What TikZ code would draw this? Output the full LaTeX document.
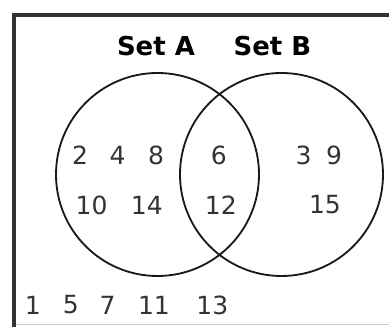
\documentclass[tikz,border=0pt]{standalone}
\usepackage{fontspec}
\setmainfont{DejaVu Sans}

\tikzset{
  num/.style={text=black!80, inner sep=0pt, font=\fontsize{17.8}{20}\selectfont},
  setlabel/.style={inner sep=0pt, font=\fontsize{18.5}{21}\selectfont\bfseries},
  setcircle/.style={line width=1.3pt, black!90}
}

\begin{document}
\begin{tikzpicture}
  \useasboundingbox (0,0) rectangle (9.725,8.175);

  % 1. 枠 (全体集合)
  \draw[black!20, line width=0.4pt] (0.35,0.07) -- (9.725,0.07);
  \draw[black!80, line width=2.2pt] (0.35,0) -- (0.35,7.8) -- (9.725,7.8);

  % 2. 円 A, B
  \coordinate (A) at (3.9375,3.8125);
  \coordinate (B) at (7.0375,3.8125);
  \draw[setcircle] (A) circle (2.5375);
  \draw[setcircle] (B) circle (2.5375);

  % 3. 集合の名前
  \node[setlabel] (setA) at (3.9,7.025) {Set A};
  \node[setlabel] (setB) at (6.81,7.025) {Set B};

  % 4. A のみ
  \node[num] (n2)  at (2.0,4.29)  {2};
  \node[num] (n4)  at (2.94,4.29) {4};
  \node[num] (n8)  at (3.9,4.29)  {8};
  \node[num] (n10) at (2.29,3.05) {10};
  \node[num] (n14) at (3.67,3.05) {14};

  % 5. A と B の共通部分
  \node[num] (n6)  at (5.47,4.29) {6};
  \node[num] (n12) at (5.52,3.05) {12};

  % 6. B のみ
  \node[num] (n3)  at (7.59,4.29) {3};
  \node[num] (n9)  at (8.35,4.29) {9};
  \node[num] (n15) at (8.125,3.05) {15};

  % 7. どちらにも属さない
  \node[num] (n1)  at (0.82,0.55) {1};
  \node[num] (n5)  at (1.77,0.55) {5};
  \node[num] (n7)  at (2.69,0.55) {7};
  \node[num] (n11) at (3.85,0.55) {11};
  \node[num] (n13) at (5.31,0.55) {13};

\end{tikzpicture}
\end{document}
